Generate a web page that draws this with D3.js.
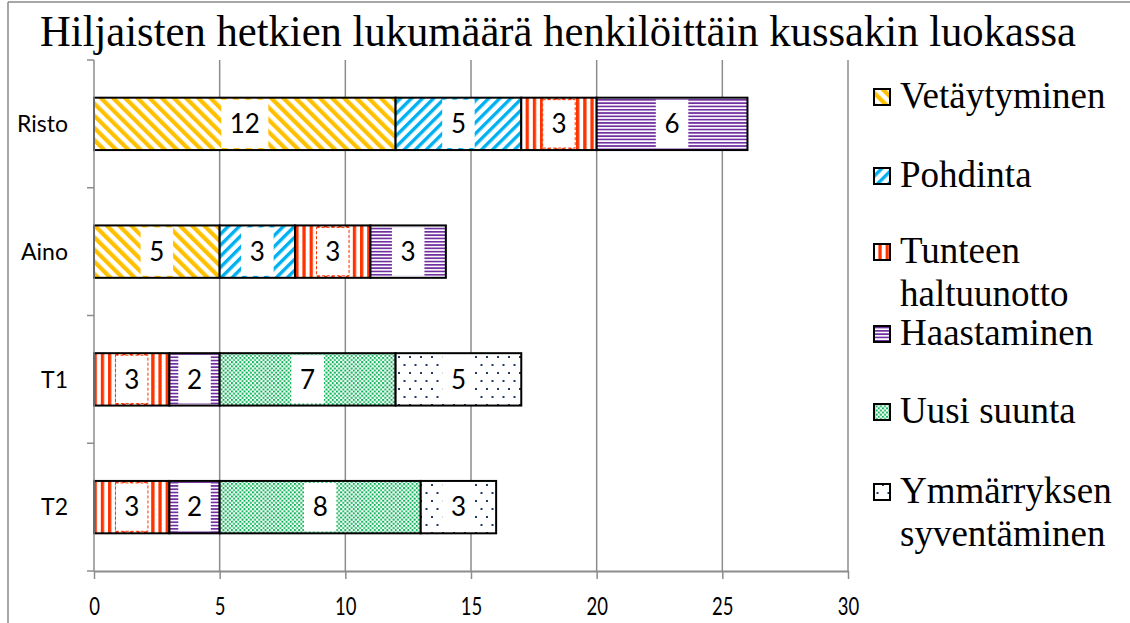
<!DOCTYPE html>
<html>
<head>
<meta charset="utf-8">
<script src="https://cdn.jsdelivr.net/npm/d3@7/dist/d3.min.js"></script>
<style>
  html, body { margin: 0; padding: 0; background: #fff; }
  svg { display: block; }
</style>
</head>
<body>
<svg id="chart" width="1130" height="623"></svg>
<script>
// ---- Data ----
const titleText = "Hiljaisten hetkien lukumäärä henkilöittäin kussakin luokassa";
const categories = ["Risto", "Aino", "T1", "T2"];
const seriesNames = ["Vetäytyminen", "Pohdinta", "Tunteen haltuunotto", "Haastaminen", "Uusi suunta", "Ymmärryksen syventäminen"];
const vetaytyminen = [12, 5, 0, 0];
const pohdinta = [5, 3, 0, 0];
const tunteenHaltuunotto = [3, 3, 3, 3];
const haastaminen = [6, 3, 2, 2];
const uusiSuunta = [0, 0, 7, 8];
const ymmarryksenSyventaminen = [0, 0, 5, 3];
const xTicks = [0, 5, 10, 15, 20, 25, 30];
const legendLines = [["Vetäytyminen"], ["Pohdinta"], ["Tunteen", "haltuunotto"], ["Haastaminen"], ["Uusi suunta"], ["Ymmärryksen", "syventäminen"]];

const seriesValues = [vetaytyminen, pohdinta, tunteenHaltuunotto, haastaminen, uusiSuunta, ymmarryksenSyventaminen];
const patternIds = ["pVet", "pPoh", "pTun", "pHaa", "pUus", "pYmm"];
const seriesColors = ["#FFC000", "#00B0F0", "#FF3300", "#7030A0", "#00B050", "#1F3864"];

const svg = d3.select("#chart");
const W = 1130, H = 623;
const serifFont = "Liberation Serif";
const labelFont = "Lato";

// ---- Patterns ----
const defs = svg.append("defs");
function stripes(id, color, period, width, angle) {
  const p = defs.append("pattern").attr("id", id).attr("patternUnits", "userSpaceOnUse")
    .attr("width", period).attr("height", period)
    .attr("patternTransform", `rotate(${angle})`);
  p.append("rect").attr("width", period).attr("height", period).attr("fill", "#fff");
  p.append("rect").attr("x", 0).attr("y", 0).attr("width", width).attr("height", period).attr("fill", color);
}
stripes("pVet", "#FFC000", 8.6, 4.2, -45);
stripes("pPoh", "#00B0F0", 7.8, 3.4, 45);
stripes("pTun", "#FF3300", 7.2, 3.3, 0);
stripes("pHaa", "#7030A0", 3.3, 1.7, 90);
(function () {
  const s = 4.2;
  const p = defs.append("pattern").attr("id", "pUus").attr("patternUnits", "userSpaceOnUse")
    .attr("width", s).attr("height", s);
  p.append("rect").attr("width", s).attr("height", s).attr("fill", "#fff");
  p.append("rect").attr("x", 0).attr("y", 0).attr("width", 1.9).attr("height", 1.9).attr("fill", "#00B050");
  p.append("rect").attr("x", s / 2).attr("y", s / 2).attr("width", 1.9).attr("height", 1.9).attr("fill", "#00B050");
})();
(function () {
  const p = defs.append("pattern").attr("id", "pYmm").attr("patternUnits", "userSpaceOnUse")
    .attr("width", 11).attr("height", 16);
  p.append("rect").attr("width", 11).attr("height", 16).attr("fill", "#fff");
  p.append("rect").attr("x", 2).attr("y", 4).attr("width", 2).attr("height", 2).attr("fill", "#1F3864");
  p.append("rect").attr("x", 7.5).attr("y", 12).attr("width", 2).attr("height", 2).attr("fill", "#1F3864");
})();

// ---- Border ----
svg.append("line").attr("x1", 8).attr("x2", W).attr("y1", 2).attr("y2", 2).attr("stroke", "#8a8a8a").attr("stroke-width", 1.5);
svg.append("line").attr("x1", 8).attr("x2", 8).attr("y1", 2).attr("y2", H).attr("stroke", "#8a8a8a").attr("stroke-width", 1.5);

// ---- Title (tall, condensed look) ----
svg.append("text")
  .attr("transform", "translate(558,46) scale(1,1.12)")
  .attr("x", 0).attr("y", 0)
  .attr("text-anchor", "middle")
  .attr("font-family", serifFont)
  .attr("font-size", 40)
  .attr("textLength", 1036).attr("lengthAdjust", "spacingAndGlyphs")
  .attr("fill", "#000")
  .text(titleText);

// ---- Scales ----
const x = d3.scaleLinear().domain([0, 30]).range([94, 848]);
const y = d3.scaleBand().domain(categories).range([60, 571]).paddingInner(0.59).paddingOuter(0.295);
const grid = "#8c8c8c";

// gridlines
svg.append("g").selectAll("line").data(xTicks.filter(d => d > 0)).join("line")
  .attr("x1", d => x(d)).attr("x2", d => x(d))
  .attr("y1", 60).attr("y2", 571)
  .attr("stroke", grid).attr("stroke-width", 1.5);

// ---- Stack ----
const tableRows = categories.map((c, i) => {
  const row = { cat: c };
  seriesNames.forEach((s, j) => row[s] = seriesValues[j][i]);
  return row;
});
const stack = d3.stack().keys(seriesNames)(tableRows);

const barsG = svg.append("g");
stack.forEach((layer, j) => {
  barsG.append("g").selectAll("rect").data(layer.filter(d => d[1] - d[0] > 0)).join("rect")
    .attr("x", d => x(d[0]))
    .attr("y", d => y(d.data.cat))
    .attr("width", d => x(d[1]) - x(d[0]))
    .attr("height", y.bandwidth())
    .attr("fill", `url(#${patternIds[j]})`)
    .attr("stroke", "#000").attr("stroke-width", 2);
});

// labels
stack.forEach((layer, j) => {
  layer.filter(d => d[1] - d[0] > 0).forEach(d => {
    const v = d[1] - d[0];
    const cx = (x(d[0]) + x(d[1])) / 2;
    const cy = y(d.data.cat) + y.bandwidth() / 2;
    const w = String(v).length * 14.5 + 18;
    const g = barsG.append("g");
    g.append("rect")
      .attr("x", cx - w / 2).attr("y", y(d.data.cat) + 2)
      .attr("width", w).attr("height", y.bandwidth() - 4)
      .attr("fill", "#fff")
      .attr("stroke", j === 2 ? seriesColors[j] : "none")
      .attr("stroke-width", 1).attr("stroke-dasharray", "3,2");
    g.append("text").attr("x", cx).attr("y", cy).attr("dy", "0.36em")
      .attr("text-anchor", "middle").attr("font-family", labelFont).attr("font-size", 26)
      .attr("fill", "#000").text(v);
  });
});

// ---- Axes ----
const xAxis = svg.append("g").attr("transform", "translate(0,571)")
  .call(d3.axisBottom(x).tickValues(xTicks).tickSize(8).tickSizeOuter(0));
xAxis.attr("font-family", labelFont);
xAxis.select(".domain").attr("stroke", grid).attr("stroke-width", 2);
xAxis.selectAll(".tick line").attr("stroke", grid).attr("stroke-width", 1.5);
xAxis.selectAll(".tick text")
  .attr("y", 0).attr("dy", 0)
  .attr("transform", "translate(0,44) scale(0.74,1)")
  .attr("font-family", labelFont).attr("font-size", 25).attr("fill", "#000");

// y axis line
svg.append("line").attr("x1", 94).attr("x2", 94).attr("y1", 60).attr("y2", 571)
  .attr("stroke", grid).attr("stroke-width", 1.5);
const boundaries = categories.map(c => y(c) - (y.step() - y.bandwidth()) / 2).concat([571]);
svg.append("g").selectAll("line").data(boundaries).join("line")
  .attr("x1", 87).attr("x2", 94).attr("y1", d => d).attr("y2", d => d)
  .attr("stroke", grid).attr("stroke-width", 1.5);
svg.append("g").selectAll("text").data(categories).join("text")
  .attr("x", 68).attr("y", d => y(d) + y.bandwidth() / 2).attr("dy", "0.36em")
  .attr("text-anchor", "end").attr("font-family", labelFont).attr("font-size", 23).attr("fill", "#000")
  .text(d => d);

// ---- Legend ----
const legendBaselines = [108, 187, 263, 345, 423, 503];
legendLines.forEach((lines, j) => {
  const by = legendBaselines[j];
  svg.append("rect").attr("x", 874).attr("y", by - 19).attr("width", 16).attr("height", 16)
    .attr("fill", `url(#${patternIds[j]})`).attr("stroke", "#000").attr("stroke-width", 2);
  lines.forEach((ln, k) => {
    svg.append("text").attr("x", 900).attr("y", by + k * 43)
      .attr("font-family", serifFont).attr("font-size", 37).attr("fill", "#000").text(ln);
  });
});
</script>
</body>
</html>
